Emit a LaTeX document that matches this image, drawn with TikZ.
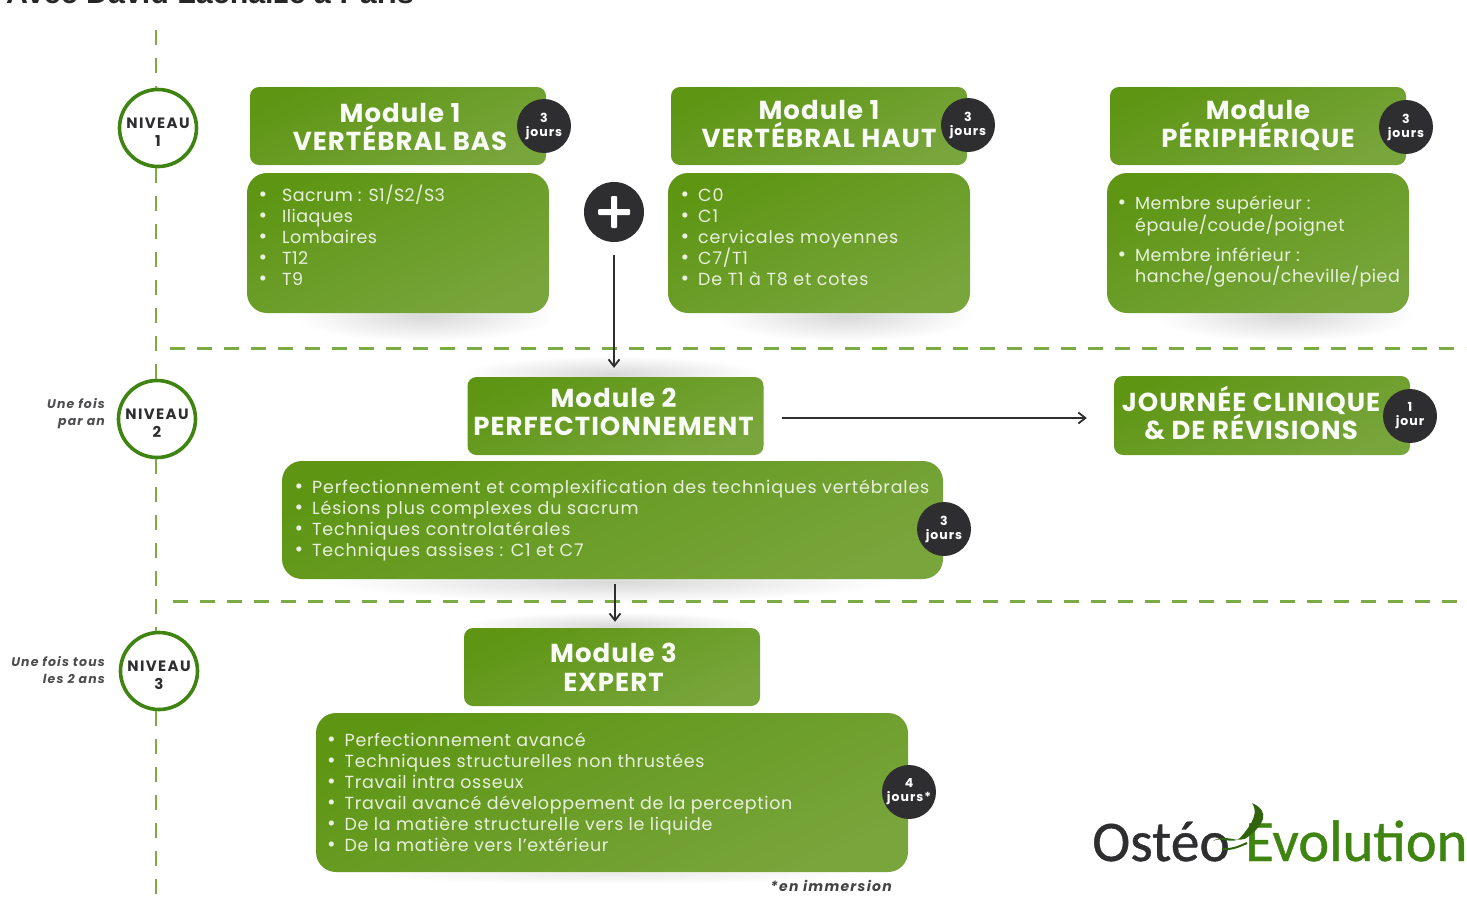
\documentclass[tikz,border=0pt]{standalone}
\usepackage{fontspec}
\setmainfont{Poppins}
\newfontfamily\titlefont{Liberation Sans}
\newfontfamily\logofont[FakeBold=0.7]{Carlito}
\usetikzlibrary{arrows.meta,calc}
\definecolor{gA}{HTML}{5E9614}
\definecolor{gB}{HTML}{78A53C}
\definecolor{gDash}{HTML}{7AAB45}
\definecolor{ring}{HTML}{3F8410}
\definecolor{dark}{HTML}{2E2E30}
\newcommand{\itm}[1]{\makebox[0pt][r]{\scalebox{1.2}{\textbullet}\hspace{9pt}}#1\\}
\newcommand{\itmw}[1]{\makebox[0pt][r]{\scalebox{1.2}{\textbullet}\hspace{15pt}}#1\\}
\newcommand{\fsz}[2]{\fontsize{#1}{#2}\selectfont}
\newcommand{\ls}[1]{\addfontfeatures{LetterSpace=#1}}
\newcommand{\itemfont}[1]{\fsz{17.5}{21}\ls{#1}}
\tikzset{
  x=1pt,y=-1pt,
  gbox/.style={rounded corners=9pt,inner sep=0pt,shading=axis,left color=gA,right color=gB,shading angle=25,draw=none,text=white},
  head/.style={gbox,minimum width=296pt,minimum height=78pt},
  htext/.style={text=white!96!gA,font=\fsz{26}{29.5}\bfseries\ls{4},align=center,inner sep=0pt},
  panel/.style={gbox,rounded corners=20pt},
  items/.style={text=white!86!gA,align=left,inner sep=0pt,anchor=north west},
  badge/.style={circle,fill=dark,text=white,minimum size=54pt,inner sep=0pt,align=center,font=\fsz{12.5}{14}\bfseries\ls{8}},
  level/.style={circle,draw=ring,line width=3.6pt,fill=white,minimum size=77pt,inner sep=0pt},
  ltext/.style={align=center,inner sep=0pt,text=dark,font=\fsz{15}{18}\bfseries\ls{9}},
  note/.style={align=right,anchor=east,text=dark!85,inner sep=0pt,font=\fsz{12.5}{17}\bfseries\itshape\ls{9}},
  vdash/.style={gDash,line width=2.6pt,dash pattern=on 15pt off 13pt},
  hdash/.style={gDash,line width=3pt,dash pattern=on 15pt off 12pt},
  flow/.style={dark,line width=2.2pt,-{Straight Barb[length=7pt,width=11pt,line width=1.8pt]}},
  glow/.style={inner color=black!15,outer color=white},
}
\begin{document}
\begin{tikzpicture}
\useasboundingbox (0,0) rectangle (1467,903);
\clip (0,0) rectangle (1467,903);
\node[anchor=base west,inner sep=0pt,font=\titlefont\fsz{30.4}{31}\bfseries,text=black!85] (title) at (6,3) {Avec David Lachaize à Paris};
% soft shadows
\shade[glow] (425,316) ellipse (130 and 26);
\shade[glow] (845,316) ellipse (130 and 26);
\shade[glow] (1285,316) ellipse (130 and 26);
\shade[glow] (612,374) ellipse (150 and 18);
\shade[glow] (612,582) ellipse (280 and 20);
\shade[glow] (612,626) ellipse (150 and 14);
\shade[inner color=black!8,outer color=white] (612,874) ellipse (260 and 10);
% axis and separators
\coordinate (axtop) at (156,30);
\coordinate (axbot) at (156,915);
\coordinate (sep1a) at (170,348);
\coordinate (sep1b) at (1466,348);
\coordinate (sep2a) at (173,601);
\coordinate (sep2b) at (1466,601);
\node[level] (n1) at (158,128) {};
\node[level] (n2) at (157,419) {};
\node[level] (n3) at (159,671) {};
\node[ltext] (n1t) at (158,132) {NIVEAU\\1};
\node[ltext] (n2t) at (157,423) {NIVEAU\\2};
\node[ltext] (n3t) at (159,675) {NIVEAU\\3};
\draw[vdash] (axtop) -- (n1.north -| axtop);
\draw[vdash] (n1.south -| axtop) -- (n2.north -| axtop);
\draw[vdash] (n2.south -| axtop) -- (n3.north -| axtop);
\draw[vdash] (n3.south -| axtop) -- (axbot);
\draw[hdash] (sep1a) -- (sep1b);
\draw[hdash] (sep2a) -- (sep2b);
\node[note] (f2) at (105,413.5) {Une fois\\par an};
\node[note] (f3) at (105,670) {Une fois tous\\les 2 ans};
% level 1
\node[head] (a) at (398,126) {};
\node[htext] (at) at (400,127) {Module 1\\[-1pt]VERTÉBRAL BAS};
\node[panel,minimum width=302pt,minimum height=140pt] (ab) at (398,243) {};
\node[items,font=\itemfont{2.5}] (al) at (282,185) {\itmw{Sacrum : S1/S2/S3}\itmw{Iliaques}\itmw{Lombaires}\itmw{T12}\itmw{T9}};
\node[badge] (ad) at (544,126) {3\\jours};
\node[head] (b) at (819,126) {};
\node[htext] (bt) at (819,124) {Module 1\\[-1pt]VERTÉBRAL HAUT};
\node[panel,minimum width=302pt,minimum height=140pt] (bb) at (819,243) {};
\node[items,font=\itemfont{4.8}] (bl) at (698,188.5) {\itm{C0}\itm{C1}\itm{cervicales moyennes}\itm{C7/T1}\itm{De T1 à T8 et cotes}};
\node[badge] (bd) at (968,125) {3\\jours};
\node[head] (c) at (1258,126) {};
\node[htext] (ct) at (1258,125.5) {Module\\[-1pt]PÉRIPHÉRIQUE};
\node[panel,minimum width=302pt,minimum height=140pt] (cb) at (1258,243) {};
\node[items,font=\itemfont{2.6}] (cl) at (1135,195.5) {\itm{Membre supérieur :}épaule/coude/poignet\\[9pt]\itm{Membre inférieur :}hanche/genou/cheville/pied};
\node[badge] (cd) at (1406,127) {3\\jours};
\node[circle,fill=dark,minimum size=60pt,inner sep=0pt] (plus) at (614,212) {};
\fill[white,rounded corners=1pt] (plus.center) ++(-16,-3) rectangle ++(32,6);
\fill[white,rounded corners=1pt] (plus.center) ++(-3,-16) rectangle ++(6,32);
% level 2
\node[head] (m) at (615.5,416) {};
\node[htext] (mt) at (613.5,412) {Module 2\\[-1pt]PERFECTIONNEMENT};
\node[head,minimum height=79pt] (j) at (1262,415.5) {};
\node[htext] (jt) at (1251,413) {JOURNÉE CLINIQUE\\[-1pt]\& DE RÉVISIONS};
\node[badge] (jd) at (1410,416) {1\\jour};
\node[panel,minimum width=661pt,minimum height=118pt] (mb) at (612.5,520) {};
\node[items,font=\itemfont{4.7}] (ml) at (312,479.5) {\itm{Perfectionnement et complexification des techniques vertébrales}\itm{Lésions plus complexes du sacrum}\itm{Techniques controlatérales}\itm{Techniques assises : C1 et C7}};
\node[badge] (md) at (944,529) {3\\jours};
% level 3
\node[head] (e) at (612,667) {};
\node[htext] (et) at (613.5,667.5) {Module 3\\[-1pt]EXPERT};
\node[panel,minimum width=592pt,minimum height=159pt] (eb) at (612,792.5) {};
\node[items,font=\itemfont{3.8}] (el) at (344.5,732.5) {\itm{Perfectionnement avancé}\itm{Techniques structurelles non thrustées}\itm{Travail intra osseux}\itm{Travail avancé développement de la perception}\itm{De la matière structurelle vers le liquide}\itm{De la matière vers l’extérieur}};
\node[badge] (ed) at (909,792) {4\\jours*};
\node[anchor=east,inner sep=0pt,text=dark!90,font=\fsz{14}{16}\bfseries\itshape\ls{9}] (imm) at (892,886) {*en immersion};
% connectors
\draw[flow,shorten <=13pt,shorten >=9pt] (plus.south) -- (m.north -| plus.south);
\coordinate (y12) at (0,418);
\draw[flow,shorten <=18pt,shorten >=27pt] (m.east |- y12) -- (j.west |- y12);
\coordinate (x23) at (615,0);
\draw[flow,shorten <=5pt,shorten >=6pt] (mb.south -| x23) -- (e.north -| x23);
% logo
\node[anchor=base west,inner sep=0pt,font=\logofont\fsz{57.5}{60},text=dark] (lo) at (1092,861) {Ostéo};
\node[anchor=base west,inner sep=0pt,font=\logofont\fsz{58.5}{60},text=ring] (le) at (1245,861) {Evolution};
\fill[ring!75!black] (1213,841) .. controls (1226,832) and (1238,846) .. (1249,836) .. controls (1262,826) and (1272,812) .. (1252,803) .. controls (1258,812) and (1254,822) .. (1240,838) .. controls (1232,845) and (1222,836) .. (1213,841) -- cycle;
\draw[ring!75!black,line width=2pt] (1222,849) .. controls (1232,850) and (1240,846) .. (1247,843);
\end{tikzpicture}
\end{document}
